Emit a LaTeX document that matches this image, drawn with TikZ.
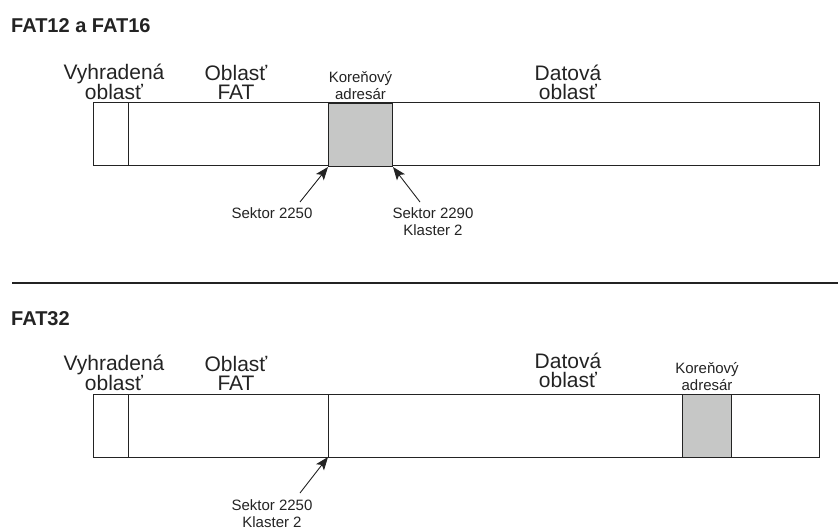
\documentclass[tikz,border=0pt]{standalone}
\usepackage{fontspec}
\setmainfont{Liberation Sans}
\definecolor{rootgray}{RGB}{198,199,198}
\definecolor{inkgray}{RGB}{35,35,35}
\usetikzlibrary{arrows.meta,positioning,calc}
\tikzset{
  title/.style={font=\fontsize{20}{20}\selectfont\bfseries,anchor=base west,inner sep=0pt,text=inkgray},
  biglbl/.style={font=\fontsize{21}{19.5}\selectfont,align=center,anchor=south,inner sep=0pt,text=inkgray},
  smalllbl/.style={font=\fontsize{15}{17}\selectfont,align=center,inner sep=0pt,text=inkgray},
  barline/.style={draw=inkgray,line width=1pt},
  rootbox/.style={barline,fill=rootgray,anchor=north west,inner sep=0pt,minimum height=63pt},
  ptr/.style={-{Stealth[length=13pt,width=10pt,inset=3pt]},line width=0.9pt,draw=inkgray}
}

\begin{document}
\begin{tikzpicture}[x=1pt,y=-1pt]
\useasboundingbox (0,0) rectangle (838,532);
% FAT12 a FAT16
\node[title] (t16) at (11,33) {FAT12 a FAT16};
\draw[barline] (93,103) rectangle (819,166);
\draw[barline] (128,103) -- (128,166);
\node[rootbox,minimum width=64pt] (root16) at (328,103) {};
\node[biglbl] (res16) at (114,100) {Vyhradená\\oblasť};
\node[biglbl] (fat16) at (236,100) {Oblasť\\FAT};
\node[smalllbl,anchor=south] (rlbl16) at ([yshift=3pt]root16.north) {Koreňový\\adresár};
\node[biglbl] (dat16) at (568,100) {Datová\\oblasť};
\node[smalllbl,anchor=north] (s2250) at (272,207) {Sektor 2250};
\node[smalllbl,anchor=north] (s2290) at (433,207) {Sektor 2290\\Klaster 2};
\draw[ptr] ([shift={(28,-5)}]s2250.north) -- (root16.south west);
\draw[ptr] ([shift={(-13,-5)}]s2290.north) -- (root16.south east);
% delenie
\coordinate (sepL) at (12,283);
\coordinate (sepR) at (838,283);
\draw[line width=1.2pt,inkgray] (sepL) -- (sepR);
% FAT32
\node[title] (t32) at (11,325) {FAT32};
\draw[barline] (93,394) rectangle (819,457);
\draw[barline] (128,394) -- (128,457);
\draw[barline] (328,394) coordinate (clu2top) -- (328,457) coordinate (clu2);
\node[rootbox,minimum width=49pt] (root32) at (682,394) {};
\node[biglbl] (res32) at (114,391) {Vyhradená\\oblasť};
\node[biglbl] (fat32) at (236,391) {Oblasť\\FAT};
\node[smalllbl,anchor=south] (rlbl32) at ([yshift=3pt]root32.north) {Koreňový\\adresár};
\node[biglbl] (dat32) at (568,388) {Datová\\oblasť};
\node[smalllbl,anchor=north] (s2250b) at (272,499) {Sektor 2250\\Klaster 2};
\draw[ptr] ([shift={(28,-6)}]s2250b.north) -- (clu2);
\end{tikzpicture}
\end{document}
